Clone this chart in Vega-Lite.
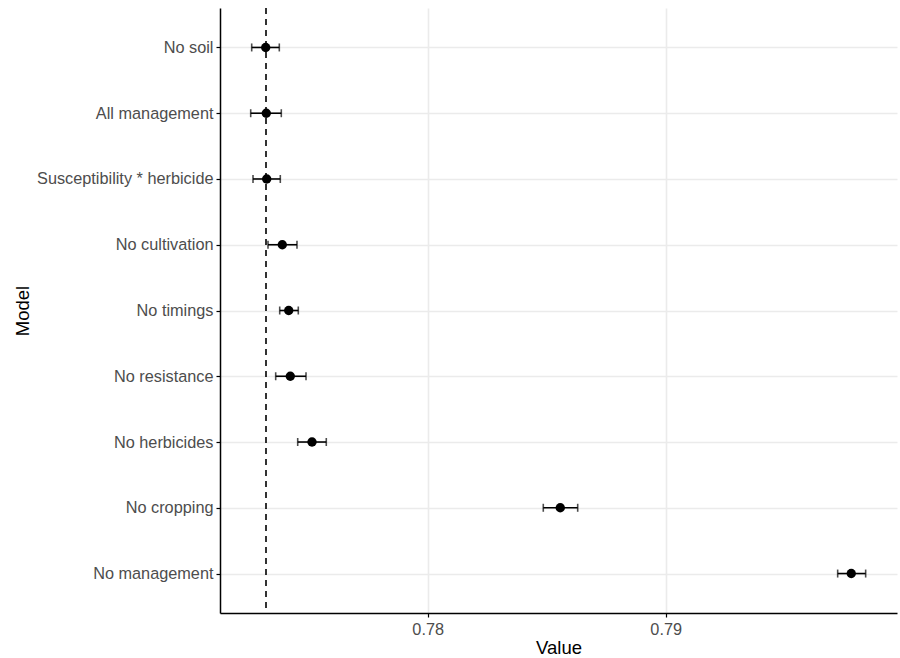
{
  "$schema": "https://vega.github.io/schema/vega-lite/v6.json",
  "width": 677,
  "height": 605,
  "autosize": {"type": "none"},
  "padding": {"left": 220, "top": 8, "right": 3, "bottom": 45},
  "background": "white",
  "config": {
    "view": {"stroke": null},
    "font": "Liberation Sans",
    "axis": {
      "domainColor": "black",
      "domainWidth": 1.5,
      "tickColor": "black",
      "tickWidth": 1.2,
      "tickSize": 4,
      "labelColor": "#4D4D4D",
      "labelFontSize": 16.3,
      "labelFont": "Liberation Sans",
      "titleFont": "Liberation Sans",
      "titleFontSize": 18.5,
      "titleFontWeight": "normal",
      "titleColor": "black",
      "gridColor": "#EBEBEB",
      "gridWidth": 1.6
    }
  },
  "datasets": {
    "models": [
      {"model": "No soil", "value": 0.773193, "lower": 0.772605, "upper": 0.773765},
      {"model": "All management", "value": 0.773218, "lower": 0.772563, "upper": 0.773849},
      {"model": "Susceptibility * herbicide", "value": 0.773235, "lower": 0.77266, "upper": 0.773807},
      {"model": "No cultivation", "value": 0.773891, "lower": 0.77329, "upper": 0.774508},
      {"model": "No timings", "value": 0.77416, "lower": 0.773782, "upper": 0.774563},
      {"model": "No resistance", "value": 0.774227, "lower": 0.773613, "upper": 0.774887},
      {"model": "No herbicides", "value": 0.775139, "lower": 0.774538, "upper": 0.775739},
      {"model": "No cropping", "value": 0.785571, "lower": 0.784857, "upper": 0.786303},
      {"model": "No management", "value": 0.797798, "lower": 0.797227, "upper": 0.798403}
    ],
    "ref": [{"value": 0.773206}]
  },
  "layer": [
    {
      "data": {"name": "models"},
      "mark": {"type": "rule", "color": "black", "strokeWidth": 1.6},
      "encoding": {
        "x": {
          "field": "lower",
          "type": "quantitative",
          "scale": {"domain": [0.771273, 0.79972], "nice": false, "zero": false},
          "axis": {"values": [0.78, 0.79], "format": ".2f", "title": "Value", "grid": true, "labelPadding": 4, "titleY": 34, "titleBaseline": "middle"}
        },
        "x2": {"field": "upper"},
        "y": {
          "field": "model",
          "type": "nominal",
          "sort": ["No soil", "All management", "Susceptibility * herbicide", "No cultivation", "No timings", "No resistance", "No herbicides", "No cropping", "No management"],
          "scale": {"type": "point", "padding": 0.6},
          "axis": {"title": "Model", "grid": true, "labelPadding": 3, "titleX": -198, "titleBaseline": "middle"}
        }
      }
    },
    {
      "data": {"name": "models"},
      "mark": {"type": "tick", "color": "black", "thickness": 1.6, "size": 8, "orient": "vertical"},
      "encoding": {
        "x": {"field": "lower", "type": "quantitative"},
        "y": {"field": "model", "type": "nominal", "sort": ["No soil", "All management", "Susceptibility * herbicide", "No cultivation", "No timings", "No resistance", "No herbicides", "No cropping", "No management"]}
      }
    },
    {
      "data": {"name": "models"},
      "mark": {"type": "tick", "color": "black", "thickness": 1.6, "size": 8, "orient": "vertical"},
      "encoding": {
        "x": {"field": "upper", "type": "quantitative"},
        "y": {"field": "model", "type": "nominal", "sort": ["No soil", "All management", "Susceptibility * herbicide", "No cultivation", "No timings", "No resistance", "No herbicides", "No cropping", "No management"]}
      }
    },
    {
      "data": {"name": "models"},
      "mark": {"type": "circle", "color": "black", "opacity": 1, "size": 88},
      "encoding": {
        "x": {"field": "value", "type": "quantitative"},
        "y": {"field": "model", "type": "nominal", "sort": ["No soil", "All management", "Susceptibility * herbicide", "No cultivation", "No timings", "No resistance", "No herbicides", "No cropping", "No management"]}
      }
    },
    {
      "data": {"name": "ref"},
      "mark": {"type": "rule", "color": "black", "strokeWidth": 1.6, "strokeDash": [6, 5]},
      "encoding": {
        "x": {"field": "value", "type": "quantitative"}
      }
    }
  ]
}
